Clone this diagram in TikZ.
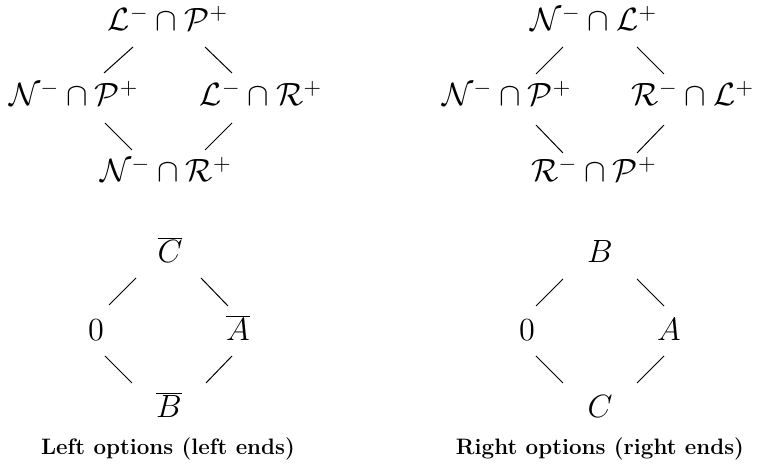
\documentclass[tikz,border=0pt]{standalone}
\DeclareFontShape{OML}{cmm}{m}{it}{<-6>cmmi5<6-7>cmmi6<7-8>cmmi7<8-9>cmmi8<9-10>cmmi9<10-12>cmmi10<12->cmmi12}{}
\DeclareFontShape{OMS}{cmsy}{m}{n}{<-6>cmsy5<6-7>cmsy6<7-8>cmsy7<8-9>cmsy8<9-10>cmsy9<10->cmsy10}{}
\DeclareFontShape{OT1}{cmr}{m}{n}{<-6>cmr5<6-7>cmr6<7-8>cmr7<8-9>cmr8<9-10>cmr9<10-12>cmr10<12-17>cmr12<17->cmr17}{}
\tikzset{
  mnode/.style={anchor=base, inner sep=0pt, font=\fontsize{16.1}{19}\selectfont},
  capnode/.style={anchor=base, inner sep=0pt, font=\fontsize{11.17}{13.5}\selectfont\bfseries},
  edge/.style={line width=0.5pt},
}
\begin{document}
\begin{tikzpicture}[x=0.5pt,y=-0.5pt]
\useasboundingbox (0,0) rectangle (757,465);
% ---------- top left ----------
\node[mnode] (tlT) at (168,31) {$\mathcal{L}^-\cap\mathcal{P}^+$};
\node[mnode] (tlL) at (74,106) {$\mathcal{N}^-\cap\mathcal{P}^+$};
\node[mnode] (tlR) at (261,106) {$\mathcal{L}^-\cap\mathcal{R}^+$};
\node[mnode] (tlB) at (166,182) {$\mathcal{N}^-\cap\mathcal{R}^+$};
\draw[edge] ([shift={(-35,16)}]tlT.base) -- ([shift={(30,-33)}]tlL.base);
\draw[edge] ([shift={(37,16)}]tlT.base) -- ([shift={(-29,-33)}]tlR.base);
\draw[edge] ([shift={(31,17)}]tlL.base) -- ([shift={(-34,-32)}]tlB.base);
\draw[edge] ([shift={(-29,17)}]tlR.base) -- ([shift={(39,-32)}]tlB.base);
% ---------- top right ----------
\node[mnode] (trT) at (594,31) {$\mathcal{N}^-\cap\mathcal{L}^+$};
\node[mnode] (trL) at (507,106) {$\mathcal{N}^-\cap\mathcal{P}^+$};
\node[mnode] (trR) at (693,106) {$\mathcal{R}^-\cap\mathcal{L}^+$};
\node[mnode] (trB) at (594,182) {$\mathcal{R}^-\cap\mathcal{P}^+$};
\draw[edge] ([shift={(-31,16)}]trT.base) -- ([shift={(29,-32)}]trL.base);
\draw[edge] ([shift={(43,16)}]trT.base) -- ([shift={(-29,-32)}]trR.base);
\draw[edge] ([shift={(29,19)}]trL.base) -- ([shift={(-31,-29)}]trB.base);
\draw[edge] ([shift={(-29,19)}]trR.base) -- ([shift={(43,-29)}]trB.base);
% ---------- bottom left ----------
\node[mnode] (blT) at (170,263) {$\overline{C}$};
\node[mnode] (blL) at (96,341) {$0$};
\node[mnode] (blR) at (238,341) {$\overline{A}$};
\node[mnode] (blB) at (169,418) {$\overline{B}$};
\draw[edge] ([shift={(-34,15)}]blT.base) -- ([shift={(13,-36)}]blL.base);
\draw[edge] ([shift={(31,15)}]blT.base) -- ([shift={(-10,-35)}]blR.base);
\draw[edge] ([shift={(9,15)}]blL.base) -- ([shift={(-37,-35)}]blB.base);
\draw[edge] ([shift={(-6,15)}]blR.base) -- ([shift={(37,-35)}]blB.base);
\node[capnode] (capL) at (168,455) {Left options (left ends)};
% ---------- bottom right ----------
\node[mnode] (brT) at (600,263) {$B$};
\node[mnode] (brL) at (527,341) {$0$};
\node[mnode] (brR) at (669,341) {$A$};
\node[mnode] (brB) at (600,418) {$C$};
\draw[edge] ([shift={(-37,16)}]brT.base) -- ([shift={(9,-35)}]brL.base);
\draw[edge] ([shift={(37,16)}]brT.base) -- ([shift={(-5,-35)}]brR.base);
\draw[edge] ([shift={(9,15)}]brL.base) -- ([shift={(-37,-35)}]brB.base);
\draw[edge] ([shift={(-5,15)}]brR.base) -- ([shift={(37,-35)}]brB.base);
\node[capnode] (capR) at (600,455) {Right options (right ends)};
\end{tikzpicture}
\end{document}
